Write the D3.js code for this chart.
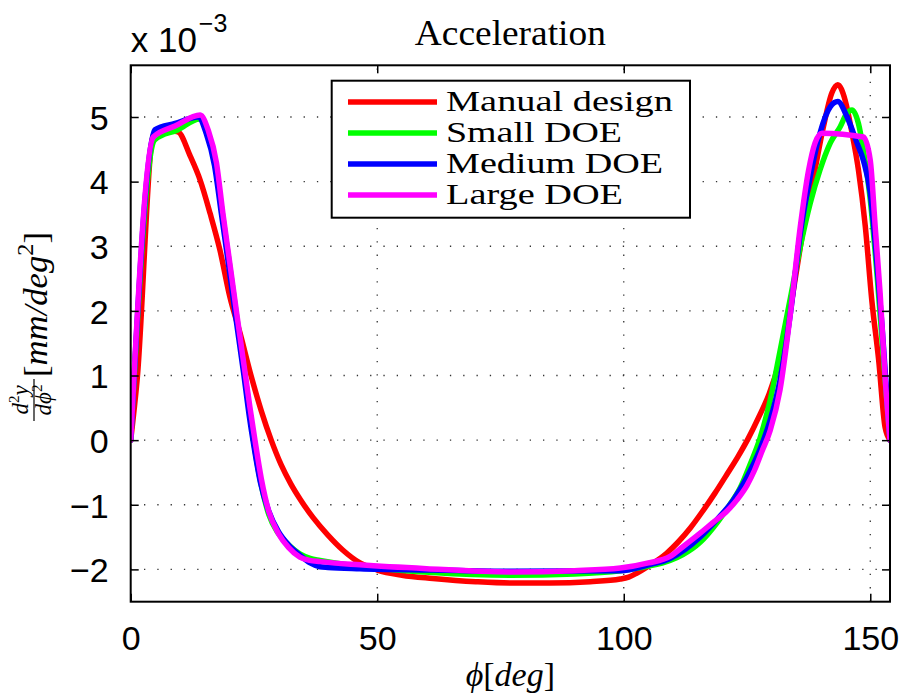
<!DOCTYPE html>
<html>
<head>
<meta charset="utf-8">
<script src="https://cdn.jsdelivr.net/npm/d3@7"></script>
<style>
  body { margin: 0; background: #fff; }
  text { fill: #000; }
</style>
</head>
<body>
<svg id="chart" width="905" height="696"></svg>
<script>
// Cam follower acceleration (units of 1e-3 mm/deg^2) against cam angle phi (deg)
const seriesNames  = ["Manual design", "Small DOE", "Medium DOE", "Large DOE"];
const seriesColors = ["#ff0000", "#00ff00", "#0000ff", "#ff00ff"];

const phiManual = [0, 1.3, 4.6, 7, 9.6, 12.1, 14.1, 16.1, 18.1, 20.1, 22.2, 24.4, 26.5, 28.5, 30.5, 32.5, 34.5, 37, 40, 43, 46.5, 50, 55, 61.3, 70, 77, 85, 93.2, 99.3, 101, 102.6, 105, 108.7, 111, 113.5, 116, 118.5, 121, 123.2, 125.2, 127.4, 129.5, 131.5, 133.5, 135, 136.5, 138.5, 140.5, 142.2, 143.4, 144.9, 146.3, 147.6, 149, 150.3, 151.7, 153, 154];
const accManual = [0, 0.93, 4.72, 4.8, 4.77, 4.39, 4.02, 3.51, 2.94, 2.22, 1.65, 1.0, 0.45, 0.0, -0.38, -0.68, -0.93, -1.2, -1.47, -1.7, -1.9, -2.01, -2.09, -2.14, -2.19, -2.21, -2.21, -2.19, -2.15, -2.12, -2.06, -1.95, -1.75, -1.58, -1.36, -1.1, -0.82, -0.52, -0.25, 0.02, 0.36, 0.72, 1.2, 1.9, 2.6, 3.3, 4.07, 4.85, 5.37, 5.5, 5.26, 4.75, 4.18, 3.3, 2.17, 1.24, 0.2, 0];

const phiSmall = [0, 4.9, 9.5, 14, 15.5, 17.2, 18.6, 20, 21.4, 23.1, 24.2, 25.1, 26.5, 28, 30, 32, 34.3, 36.4, 38.4, 46.5, 61.3, 77, 90, 99.3, 105, 109.4, 112, 115.5, 119, 121.5, 123.6, 125.6, 127.6, 129.7, 131.7, 133.8, 135.8, 137.8, 139.8, 141.9, 143.9, 145.2, 146.3, 147.6, 148.6, 150, 151.4, 152.7, 154];
const accSmall = [0, 4.65, 4.8, 4.97, 4.75, 4.25, 3.5, 2.74, 1.96, 1.04, 0.4, -0.1, -0.7, -1.15, -1.45, -1.62, -1.76, -1.83, -1.86, -1.95, -2.05, -2.09, -2.07, -2.02, -1.95, -1.86, -1.77, -1.58, -1.27, -1.0, -0.74, -0.38, 0.02, 0.62, 1.38, 2.2, 2.99, 3.66, 4.18, 4.6, 4.85, 5.05, 5.11, 4.9, 4.49, 3.72, 2.53, 1.24, 0];

const phiMedium = [0, 4.9, 9, 13.7, 15.3, 17, 18.4, 19.8, 21.2, 22.9, 24, 24.9, 26.3, 28, 30, 32, 34.3, 36.4, 38.4, 40, 46.5, 61.3, 77, 99.3, 105, 109.4, 112.5, 115.5, 119, 122.2, 125, 127.6, 129.7, 131.7, 133.8, 135.8, 137.8, 139.8, 141.9, 143.4, 145.3, 147.3, 148.6, 150, 151, 152.4, 154];
const accMedium = [0, 4.8, 4.9, 5.0, 4.75, 4.25, 3.5, 2.74, 1.96, 1.04, 0.4, -0.05, -0.65, -1.1, -1.42, -1.62, -1.78, -1.9, -1.96, -1.97, -1.99, -2.01, -2.03, -2.02, -1.93, -1.83, -1.69, -1.5, -1.22, -0.93, -0.57, -0.15, 0.31, 0.93, 1.96, 3.2, 4.07, 4.75, 5.16, 5.24, 5.0, 4.6, 4.33, 3.82, 3.05, 1.75, 0];

const phiLarge = [0, 4.6, 9, 14.1, 15.7, 17.4, 18.7, 20.1, 21.5, 23.2, 24.2, 25.2, 26.5, 28, 30, 32, 34.3, 36.3, 38.4, 46.5, 60, 77, 90, 99.3, 105, 109.4, 112, 115.5, 118, 120.9, 123, 125, 126.5, 128, 129.7, 131.7, 133.8, 135.8, 137.5, 138.8, 140.2, 148.6, 150, 151, 152, 153, 154];
const accLarge = [0, 4.69, 4.86, 5.03, 4.8, 4.29, 3.51, 2.74, 1.96, 1.04, 0.5, 0, -0.6, -1.1, -1.45, -1.66, -1.81, -1.86, -1.88, -1.93, -1.99, -2.04, -2.02, -1.98, -1.9, -1.8, -1.65, -1.44, -1.28, -1.1, -0.92, -0.7, -0.47, -0.18, 0.15, 0.78, 1.96, 3.3, 4.18, 4.6, 4.75, 4.69, 4.33, 3.3, 2.27, 0.98, 0];

const xTicks = [0, 50, 100, 150];
const yTicks = [-2, -1, 0, 1, 2, 3, 4, 5];
const xDomain = [0, 154];
const yDomain = [-2.5, 5.8];

const series = [
  { phi: phiManual, acc: accManual },
  { phi: phiSmall,  acc: accSmall },
  { phi: phiMedium, acc: accMedium },
  { phi: phiLarge,  acc: accLarge }
].map((s, i) => ({
  name: seriesNames[i],
  color: seriesColors[i],
  points: s.phi.map((p, j) => [p, s.acc[j]])
}));

const svg = d3.select("#chart");
const plot = { left: 130.7, top: 65.3, right: 890, bottom: 601.7 };

const x = d3.scaleLinear().domain(xDomain).range([plot.left, plot.right]);
const y = d3.scaleLinear().domain(yDomain).range([plot.bottom, plot.top]);

const sansFont = "'Liberation Sans', Arial, sans-serif";
const serifFont = "'Liberation Serif', 'DejaVu Serif', 'Times New Roman', serif";
const PHI = "\u03D5";

// dotted grid
const grid = svg.append("g").attr("stroke", "#333").attr("stroke-width", 1.3)
  .attr("stroke-dasharray", "1.3 12");
grid.selectAll("line.gx").data(xTicks.filter(t => t > xDomain[0])).join("line")
  .attr("x1", d => x(d)).attr("x2", d => x(d))
  .attr("y1", plot.bottom).attr("y2", plot.top);
grid.selectAll("line.gy").data(yTicks).join("line")
  .attr("y1", d => y(d)).attr("y2", d => y(d))
  .attr("x1", plot.left).attr("x2", plot.right);

// curves
const clipId = "plot-clip";
svg.append("clipPath").attr("id", clipId).append("rect")
  .attr("x", plot.left).attr("y", plot.top)
  .attr("width", plot.right - plot.left).attr("height", plot.bottom - plot.top);

const line = d3.line()
  .x(d => x(d[0])).y(d => y(d[1]))
  .curve(d3.curveMonotoneX);

svg.append("g").attr("clip-path", `url(#${clipId})`)
  .selectAll("path").data(series).join("path")
  .attr("d", d => line(d.points))
  .attr("fill", "none")
  .attr("stroke", d => d.color)
  .attr("stroke-width", 5.5)
  .attr("stroke-linejoin", "round")
  .attr("stroke-linecap", "round");

// axes with inward ticks on all four sides
const tickLen = 8;
const fmt = d3.format("d");
const xAxis = svg.append("g").attr("transform", `translate(0,${plot.bottom})`)
  .call(d3.axisBottom(x).tickValues(xTicks).tickFormat(fmt).tickSizeInner(-tickLen).tickSizeOuter(0).tickPadding(24));
const xAxisTop = svg.append("g").attr("transform", `translate(0,${plot.top})`)
  .call(d3.axisTop(x).tickValues(xTicks).tickFormat("").tickSizeInner(-tickLen).tickSizeOuter(0));
const yAxis = svg.append("g").attr("transform", `translate(${plot.left},0)`)
  .call(d3.axisLeft(y).tickValues(yTicks).tickFormat(fmt).tickSizeInner(-tickLen).tickSizeOuter(0).tickPadding(22));
const yAxisRight = svg.append("g").attr("transform", `translate(${plot.right},0)`)
  .call(d3.axisRight(y).tickValues(yTicks).tickFormat("").tickSizeInner(-tickLen).tickSizeOuter(0));

[xAxis, xAxisTop, yAxis, yAxisRight].forEach(g => {
  g.select(".domain").remove();
  g.selectAll(".tick line").attr("stroke", "#000").attr("stroke-width", 1.5);
  g.selectAll(".tick text").attr("font-family", sansFont).attr("font-size", 34).attr("fill", "#000");
});
yAxis.selectAll(".tick text").attr("dy", "0.36em");
xAxis.selectAll(".tick text").attr("dy", "0.72em");

// plot box
svg.append("rect")
  .attr("x", plot.left).attr("y", plot.top)
  .attr("width", plot.right - plot.left).attr("height", plot.bottom - plot.top)
  .attr("fill", "none").attr("stroke", "#000").attr("stroke-width", 2);

// exponent label
const expo = svg.append("text").attr("x", plot.left).attr("y", 52)
  .attr("font-family", sansFont).attr("font-size", 35);
expo.append("tspan").text("x 10");
expo.append("tspan").attr("font-size", 25).attr("dy", -20).attr("dx", 2).text("\u22123");

// title
svg.append("text")
  .attr("x", (plot.left + plot.right) / 2).attr("y", 45)
  .attr("text-anchor", "middle")
  .attr("font-family", serifFont).attr("font-size", 35)
  .attr("textLength", 191).attr("lengthAdjust", "spacingAndGlyphs")
  .text("Acceleration");

// x label: phi[deg]
const xl = svg.append("text")
  .attr("x", (plot.left + plot.right) / 2).attr("y", 686)
  .attr("text-anchor", "middle")
  .attr("font-family", serifFont).attr("font-size", 34);
xl.append("tspan").attr("font-style", "italic").text(PHI);
xl.append("tspan").text("[");
xl.append("tspan").attr("font-style", "italic").text("deg");
xl.append("tspan").text("]");

// y label: d^2y/dphi^2 [mm/deg^2], rotated
const yl = svg.append("g").attr("transform", "rotate(-90)")
  .attr("font-family", serifFont);
const fracCenter = -400;
const num = yl.append("text").attr("x", fracCenter).attr("y", 28)
  .attr("text-anchor", "middle").attr("font-size", 23).attr("font-style", "italic");
num.append("tspan").text("d");
num.append("tspan").attr("font-size", 15).attr("dy", -9).attr("font-style", "normal").text("2");
num.append("tspan").attr("dy", 9).text("y");
const den = yl.append("text").attr("x", fracCenter).attr("y", 51)
  .attr("text-anchor", "middle").attr("font-size", 23).attr("font-style", "italic");
den.append("tspan").text("d" + PHI);
den.append("tspan").attr("font-size", 15).attr("dy", -9).attr("font-style", "normal").text("2");
yl.append("line").attr("x1", fracCenter - 21).attr("x2", fracCenter + 21)
  .attr("y1", 34).attr("y2", 34).attr("stroke", "#000").attr("stroke-width", 1.2);
const unit = yl.append("text").attr("x", -377).attr("y", 47).attr("font-size", 33)
  .attr("textLength", 145).attr("lengthAdjust", "spacingAndGlyphs");
unit.append("tspan").text("[");
unit.append("tspan").attr("font-style", "italic").text("mm/deg");
unit.append("tspan").attr("font-size", 23).attr("dy", -14).text("2");
unit.append("tspan").attr("dy", 14).text("]");

// legend
const legend = svg.append("g");
legend.append("rect")
  .attr("x", 331.7).attr("y", 80.7).attr("width", 358.3).attr("height", 137)
  .attr("fill", "#fff").attr("stroke", "#000").attr("stroke-width", 2);
const rowY = d3.scalePoint().domain(seriesNames).range([102, 195]);
const legendWidths = [227, 176, 217, 177];
series.forEach((s, i) => {
  legend.append("line")
    .attr("x1", 348).attr("x2", 437)
    .attr("y1", rowY(s.name)).attr("y2", rowY(s.name))
    .attr("stroke", s.color).attr("stroke-width", 5.5);
  legend.append("text")
    .attr("x", 446).attr("y", rowY(s.name) + 9)
    .attr("font-family", serifFont).attr("font-size", 30)
    .attr("textLength", legendWidths[i]).attr("lengthAdjust", "spacingAndGlyphs")
    .text(s.name);
});
</script>
</body>
</html>
